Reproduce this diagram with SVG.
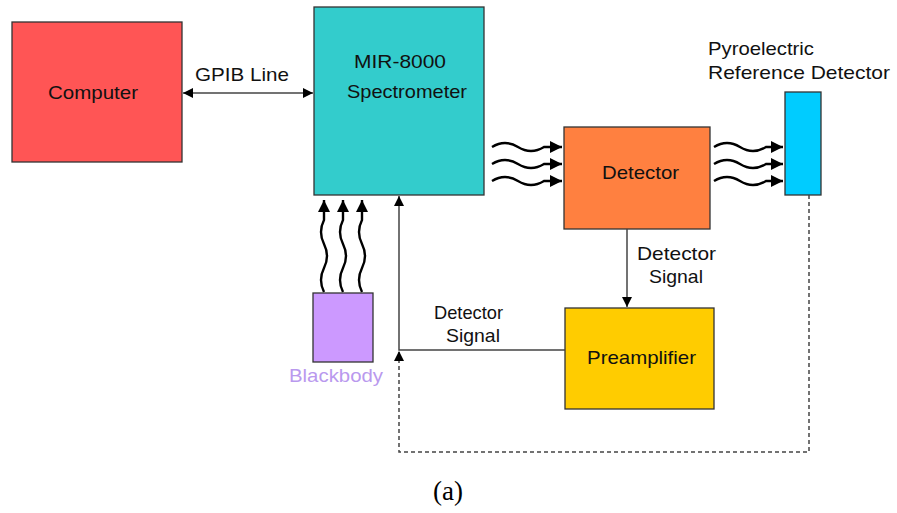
<svg xmlns="http://www.w3.org/2000/svg" width="897" height="513" viewBox="0 0 897 513">
<style>
.box{stroke:#333;stroke-width:1.3}
.t{font-family:"Liberation Sans",Arial,sans-serif;font-size:19px;fill:#111}
.ln{fill:none;stroke:#444;stroke-width:1.5}
.wv{fill:none;stroke:#000;stroke-width:2.4}
</style>
<defs>
<marker id="ah" viewBox="0 0 10 10" refX="10" refY="5" markerWidth="12" markerHeight="10" markerUnits="userSpaceOnUse" orient="auto-start-reverse">
<path d="M0,0 L10,5 L0,10 Z" fill="#000"/>
</marker>
<marker id="aw" viewBox="0 0 10 10" refX="10" refY="5" markerWidth="14" markerHeight="12" markerUnits="userSpaceOnUse" orient="auto">
<path d="M0,0 L10,5 L0,10 Z" fill="#000"/>
</marker>
</defs>
<rect width="897" height="513" fill="#fff"/>
<g id="computer">
<rect class="box" x="12" y="22" width="170" height="140" fill="#FF5555"/>
<text class="t" x="48" y="99" textLength="90" lengthAdjust="spacingAndGlyphs">Computer</text>
</g>
<g id="spectrometer">
<rect class="box" x="314" y="7" width="170" height="188" fill="#33CCCC"/>
<text class="t" x="354" y="68" textLength="92" lengthAdjust="spacingAndGlyphs">MIR-8000</text>
<text class="t" x="347" y="98" textLength="120" lengthAdjust="spacingAndGlyphs">Spectrometer</text>
</g>
<g id="detector">
<rect class="box" x="564" y="127" width="146" height="102" fill="#FF8040"/>
<text class="t" x="602" y="179" textLength="77" lengthAdjust="spacingAndGlyphs">Detector</text>
</g>
<g id="pyro">
<rect class="box" x="785" y="92" width="36" height="103" fill="#00CCFF"/>
<text class="t" x="708" y="55" textLength="106" lengthAdjust="spacingAndGlyphs">Pyroelectric</text>
<text class="t" x="708" y="79" textLength="182" lengthAdjust="spacingAndGlyphs">Reference Detector</text>
</g>
<g id="preamplifier">
<rect class="box" x="565" y="308" width="149" height="101" fill="#FFCC00"/>
<text class="t" x="587" y="364" textLength="109" lengthAdjust="spacingAndGlyphs">Preamplifier</text>
</g>
<g id="blackbody">
<rect class="box" x="313" y="293" width="60" height="69" fill="#CC99FF"/>
<text class="t" x="289" y="382" textLength="94" lengthAdjust="spacingAndGlyphs" style="fill:#B999EE">Blackbody</text>
</g>
<g id="connectors">
<line class="ln" x1="183" y1="93" x2="313" y2="93" marker-start="url(#ah)" marker-end="url(#ah)"/>
<text class="t" x="195" y="81" textLength="94" lengthAdjust="spacingAndGlyphs">GPIB Line</text>
<line class="ln" x1="627" y1="229" x2="627" y2="307" marker-end="url(#ah)"/>
<text class="t" x="637" y="260" textLength="79" lengthAdjust="spacingAndGlyphs">Detector</text>
<text class="t" x="649" y="283" textLength="54" lengthAdjust="spacingAndGlyphs">Signal</text>
<polyline class="ln" points="565,350 399,350 399,196" marker-end="url(#ah)"/>
<text class="t" x="434" y="319" textLength="69" lengthAdjust="spacingAndGlyphs">Detector</text>
<text class="t" x="446" y="342" textLength="54" lengthAdjust="spacingAndGlyphs">Signal</text>
<polyline class="ln" points="809,195 809,452 399,452 399,351" stroke-dasharray="4,3" marker-end="url(#ah)"/>
<path class="wv" d="M492,147 q13,-8 26,0 t26,0 L562,147" marker-end="url(#aw)"/>
<path class="wv" d="M492,164 q13,-8 26,0 t26,0 L562,164" marker-end="url(#aw)"/>
<path class="wv" d="M492,181 q13,-8 26,0 t26,0 L562,181" marker-end="url(#aw)"/>
<path class="wv" d="M714,147 q13,-8 26,0 t26,0 L783,147" marker-end="url(#aw)"/>
<path class="wv" d="M714,164 q13,-8 26,0 t26,0 L783,164" marker-end="url(#aw)"/>
<path class="wv" d="M714,181 q13,-8 26,0 t26,0 L783,181" marker-end="url(#aw)"/>
<path class="wv" d="M324,292 q-6,-12 0,-24 t0,-24 t0,-24 L324,200" marker-end="url(#aw)"/>
<path class="wv" d="M343,292 q-6,-12 0,-24 t0,-24 t0,-24 L343,200" marker-end="url(#aw)"/>
<path class="wv" d="M362,292 q-6,-12 0,-24 t0,-24 t0,-24 L362,200" marker-end="url(#aw)"/>
</g>
<text x="433" y="500" font-family="Liberation Serif,'Times New Roman',serif" font-size="27" fill="#000">(a)</text>
</svg>
